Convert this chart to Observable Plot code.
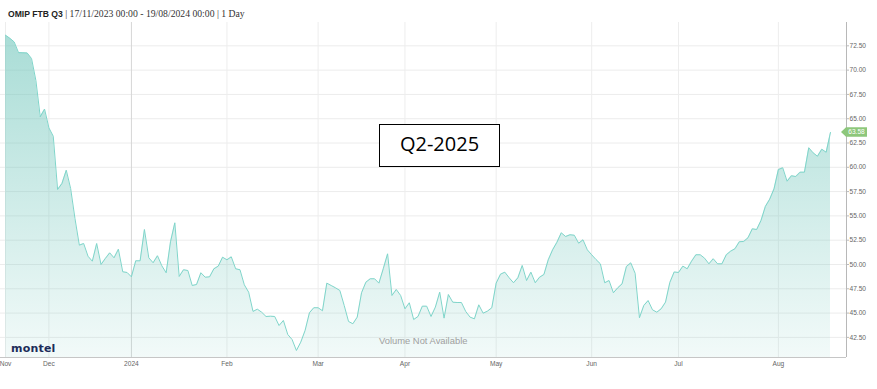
<!DOCTYPE html>
<html>
<head>
<meta charset="utf-8">
<script src="https://cdn.jsdelivr.net/npm/d3@7"></script>
<script src="https://cdn.jsdelivr.net/npm/@observablehq/plot@0.6"></script>
<style>
  html, body { margin: 0; padding: 0; background: #fff; }
  #wrap { position: relative; width: 877px; height: 389px; overflow: hidden; font-family: "Liberation Sans", Arial, sans-serif; }
  #title { position: relative; height: 18px; white-space: nowrap; color: #222; }
  #title .t { position: absolute; left: 8px; top: 7px; line-height: 10px; }
  #title b { font-family: "Liberation Sans", Arial, sans-serif; font-size: 8.6px; font-weight: bold; }
  #title span { font-family: "Liberation Serif", serif; font-size: 9.7px; color: #333; }
  #chart svg { display: block; }
  #box { position: absolute; left: 379px; top: 124px; width: 121px; height: 43px; box-sizing: border-box;
         border: 1.5px solid #000; background: #fff; display: flex; align-items: center; justify-content: center;
         font-family: "Open Sans", sans-serif; font-size: 20px; color: #000; }
  #box span { position: relative; top: -2px; }
  #vol { position: absolute; left: 379px; top: 335px; font-family: "Liberation Sans", Arial, sans-serif; font-size: 9.4px; color: #a0a0a0; white-space: nowrap; }
  #logo { position: absolute; left: 11px; top: 343px; font-family: "DejaVu Sans", sans-serif; font-weight: bold; font-size: 11px; color: #1d2c5a; letter-spacing: 0.2px; line-height: 12px; }
</style>
</head>
<body>
<div id="wrap">
  <div id="title"><div class="t"><b>OMIP FTB Q3</b><span> | 17/11/2023 00:00 - 19/08/2024 00:00 | 1 Day</span></div></div>
  <div id="chart"></div>
  <div id="vol">Volume Not Available</div>
  <div id="logo">montel</div>
  <div id="box"><span>Q2-2025</span></div>
</div>
<script>
// Month tick labels (one per month block below)
const months = ["Nov", "Dec", "2024", "Feb", "Mar", "Apr", "May", "Jun", "Jul", "Aug"];

// Daily closing values per trading day, grouped by month
const nov2023 = [73.59, 73.28, 72.9, 71.8, 71.78, 71.76, 71.19, 68.93, 65.2, 65.98];
const dec2023 = [64.06, 63.2, 57.72, 58.33, 59.7, 57.82, 54.73, 51.99, 52.16, 50.85, 50.34, 52.16, 50.0, 50.62, 51.2, 50.69, 51.57, 49.25, 49.18];
const jan2024 = [48.73, 50.38, 50.38, 53.6, 50.69, 50.18, 50.9, 49.87, 49.15, 52.34, 54.29, 48.77, 49.46, 49.38, 47.84, 47.94, 49.15, 48.69, 48.73, 49.56, 49.83, 50.75];
const feb2024 = [50.48, 50.79, 49.56, 49.46, 47.91, 47.15, 45.17, 45.4, 45.09, 44.65, 44.68, 44.65, 43.72, 44.24, 42.8, 42.28, 41.15, 42.01, 43.21, 45.03, 45.55];
const mar2024 = [45.55, 45.24, 48.08, 47.84, 47.6, 47.33, 45.79, 44.14, 43.9, 44.58, 47.09, 48.18, 48.53, 48.53, 48.08, 49.56, 51.1, 46.81, 47.43, 46.81];
const apr2024 = [45.44, 46.06, 44.34, 44.65, 45.71, 45.71, 44.65, 45.61, 47.15, 44.48, 46.91, 46.12, 46.09, 46.09, 45.16, 44.58, 44.41, 45.85, 44.99, 45.2, 45.55];
const may2024 = [48.08, 49.0, 49.21, 48.63, 48.12, 48.63, 49.9, 48.35, 49.21, 48.12, 48.69, 48.97, 50.48, 51.51, 52.29, 53.26, 52.88, 53.06, 53.01, 52.19, 52.54, 51.51];
const jun2024 = [51.0, 50.51, 50.07, 48.12, 48.35, 47.09, 47.6, 48.01, 49.79, 50.17, 49.1, 44.52, 45.78, 46.29, 45.34, 45.09, 45.44, 46.12, 48.15, 49.23];
const jul2024 = [49.18, 49.83, 49.56, 50.34, 51.0, 51.0, 50.65, 50.07, 50.59, 50.07, 50.07, 51.0, 51.37, 51.62, 52.34, 52.37, 52.75, 53.67, 53.6, 54.53, 55.97, 56.72, 57.79];
const aug2024 = [59.77, 59.95, 58.57, 59.13, 59.05, 59.5, 59.5, 62.01, 61.49, 61.14, 61.86, 61.55, 63.58];

// Y axis tick values
const yTicks = [42.5, 45, 47.5, 50, 52.5, 55, 57.5, 60, 62.5, 65, 67.5, 70, 72.5];
const yDomain = [40.43, 74.9];

// Build table (ordinal trading-day index)
const blocks = [nov2023, dec2023, jan2024, feb2024, mar2024, apr2024, may2024, jun2024, jul2024, aug2024];
const data = [];
const monthStarts = [];
blocks.forEach(arr => { monthStarts.push(data.length); arr.forEach(v => data.push({i: data.length, v})); });
const n = data.length - 1;
const plotW = 846;
const ppd = 825 / n;
const xDomain = [-5 / ppd, n + (plotW - 5 - 825) / ppd];
const yearStart = monthStarts[months.indexOf("2024")];
const otherStarts = monthStarts.filter(d => d !== yearStart);
const last = data[data.length - 1];

const chart = Plot.plot({
  width: 877,
  height: 371,
  marginTop: 4,
  marginBottom: 32,
  marginLeft: 0,
  marginRight: 31,
  style: { fontFamily: "Liberation Sans, Arial, sans-serif", background: "transparent", overflow: "visible" },
  x: { type: "linear", domain: xDomain },
  y: { domain: yDomain },
  marks: [
    Plot.gridY(yTicks, { stroke: "#ececec", strokeOpacity: 1 }),
    Plot.ruleX(otherStarts, { stroke: "#ededed", strokeOpacity: 1 }),
    Plot.ruleX([yearStart], { stroke: "#d6d6d6", strokeOpacity: 1 }),
    Plot.areaY(data, { x: "i", y1: yDomain[0], y2: "v", fill: "url(#areaGrad)" }),
    Plot.lineY(data, { x: "i", y: "v", stroke: "#7fd5ca", strokeWidth: 1 }),
    Plot.ruleY([yDomain[0]], { stroke: "#c6c6c6" }),
    Plot.ruleX([xDomain[1]], { stroke: "#b8b8b8" }),
    Plot.axisX({ ticks: monthStarts, tickFormat: d => months[monthStarts.indexOf(d)], tickSize: 0, tickPadding: 4,
                 fontSize: 6.6, fill: "#666", label: null }),
    Plot.axisY({ anchor: "right", ticks: yTicks, tickFormat: d => d.toFixed(2), tickSize: 2, tickPadding: 1,
                 fontSize: 6.6, stroke: "#bbb", fill: "#666", label: null })
  ]
});

document.getElementById("chart").appendChild(chart);

// gradient for the area fill
const svg = d3.select(chart);
const defs = svg.insert("defs", ":first-child");
const grad = defs.append("linearGradient").attr("id", "areaGrad").attr("x1", 0).attr("y1", 0).attr("x2", 0).attr("y2", 1);
grad.append("stop").attr("offset", "0%").attr("stop-color", "#70c6bb").attr("stop-opacity", 0.6);
grad.append("stop").attr("offset", "100%").attr("stop-color", "#70c6bb").attr("stop-opacity", 0.09);

// last price flag on the right axis, positioned by the scales
const ys = chart.scale("y");
const xs = chart.scale("x");
const yy = ys.apply(last.v);
const xa = xs.apply(xDomain[1]);
const h = 4.7;
svg.append("path")
  .attr("d", `M${xa - 5},${yy} L${xa},${yy - h} L${xa + 21},${yy - h} L${xa + 21},${yy + h} L${xa},${yy + h} Z`)
  .attr("fill", "#8dc77b");
svg.append("text")
  .attr("x", xa + 10.5).attr("y", yy).attr("dy", "0.35em")
  .attr("text-anchor", "middle").attr("fill", "#fff")
  .attr("font-size", 6.6).attr("font-family", "Liberation Sans, Arial, sans-serif")
  .text(last.v.toFixed(2));
</script>
</body>
</html>
